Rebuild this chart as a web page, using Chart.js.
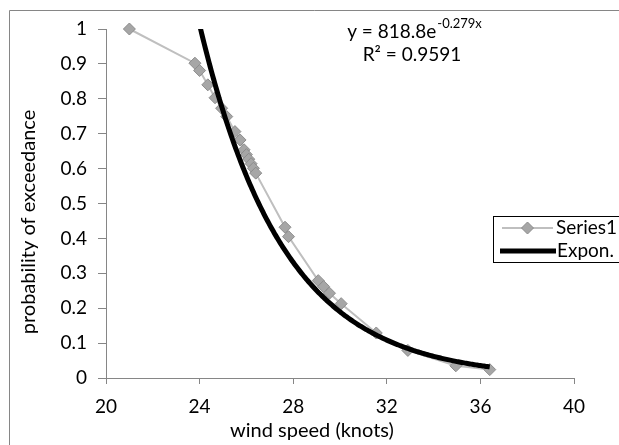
<!DOCTYPE html>
<html>
<head>
<meta charset="utf-8">
<script src="https://cdn.jsdelivr.net/npm/chart.js@4.4.0/dist/chart.umd.min.js"></script>
<style>
  body { margin: 0; background: #fff; }
  #wrap { width: 619px; height: 445px; position: relative; }
</style>
</head>
<body>
<div id="wrap"><canvas id="myChart"></canvas></div>
<script>
// wind speed (knots) vs probability of exceedance
const windSpeed = [21.0, 23.8, 24.0, 24.35, 24.66, 24.94, 25.16, 25.51, 25.73, 25.9,
                   26.0, 26.1, 26.2, 26.3, 26.4, 27.65, 27.8, 29.07, 29.3, 29.55,
                   30.05, 31.55, 32.9, 34.95, 36.4];
const exceedance = [1.0, 0.902, 0.881, 0.840, 0.803, 0.773, 0.749, 0.706, 0.682, 0.654,
                    0.640, 0.627, 0.614, 0.601, 0.587, 0.432, 0.405, 0.279, 0.262, 0.243,
                    0.213, 0.129, 0.079, 0.035, 0.024];

// exponential trendline shown on the chart: y = 818.8 e^(-0.279x)
const trendA = 818.8;
const trendB = -0.279;
const trendLabel = 'y = 818.8e';
const trendExp = '-0.279x';
const rSquared = 'R\u00b2 = 0.9591';

const xTicks = [20, 24, 28, 32, 36, 40];
const yTicks = [0, 0.1, 0.2, 0.3, 0.4, 0.5, 0.6, 0.7, 0.8, 0.9, 1];

const FONT = 'Lato';
const FS = 19;

const seriesPoints = windSpeed.map((x, i) => ({ x: x, y: exceedance[i] }));
const trendPoints = [];
const xMin = Math.min(...windSpeed), xMax = Math.max(...windSpeed);
for (let x = xMin; x <= xMax + 1e-9; x += 0.05) {
    trendPoints.push({ x: x, y: trendA * Math.exp(trendB * x) });
}
trendPoints.push({ x: xMax, y: trendA * Math.exp(trendB * xMax) });

// frame, axis titles, equation and the legend box (Excel style)
const decorations = {
    id: 'decorations',
    beforeDraw(chart) {
        const c = chart.ctx;
        c.save();
        c.strokeStyle = '#868686';
        c.lineWidth = 1;
        c.beginPath();
        c.moveTo(9.5, 460);
        c.lineTo(9.5, 10.5);
        c.lineTo(640, 10.5);
        c.stroke();
        c.restore();
    },
    afterDraw(chart) {
        const c = chart.ctx;
        c.save();
        c.fillStyle = '#000';
        c.font = '20px ' + FONT;
        c.textBaseline = 'middle';

        // axis titles
        c.textAlign = 'center';
        c.fillText('wind speed (knots)', 312, 431);
        c.save();
        c.translate(29, 222);
        c.rotate(-Math.PI / 2);
        c.fillText('probability of exceedance', 0, 0);
        c.restore();

        // trendline equation
        c.font = FS + 'px ' + FONT;
        c.textAlign = 'left';
        const w1 = c.measureText(trendLabel).width;
        c.font = '13px ' + FONT;
        const w2 = c.measureText(trendExp).width;
        let x0 = 414 - (w1 + w2) / 2;
        c.font = FS + 'px ' + FONT;
        c.fillText(trendLabel, x0, 32);
        c.font = '13px ' + FONT;
        c.fillText(trendExp, x0 + w1 + 1, 24);
        c.font = FS + 'px ' + FONT;
        c.textAlign = 'center';
        c.fillText(rSquared, 412, 55);

        // legend
        c.strokeStyle = '#000';
        c.lineWidth = 1;
        c.strokeRect(493.5, 216.5, 200, 46);
        c.strokeStyle = '#BFBFBF';
        c.lineWidth = 2;
        c.beginPath();
        c.moveTo(502, 228);
        c.lineTo(553, 228);
        c.stroke();
        c.fillStyle = '#A6A6A6';
        c.strokeStyle = '#8C8C8C';
        c.lineWidth = 1;
        c.beginPath();
        c.moveTo(527.5, 222);
        c.lineTo(533.5, 228);
        c.lineTo(527.5, 234);
        c.lineTo(521.5, 228);
        c.closePath();
        c.fill();
        c.stroke();
        c.strokeStyle = '#000';
        c.lineWidth = 5;
        c.beginPath();
        c.moveTo(500, 251);
        c.lineTo(556, 251);
        c.stroke();
        c.fillStyle = '#000';
        c.textAlign = 'left';
        c.fillText('Series1', 556, 228);
        c.fillText('Expon.', 557, 251);
        c.restore();
    }
};

const ctx = document.getElementById('myChart').getContext('2d');
const myChart = new Chart(ctx, {
    type: 'scatter',
    data: {
        datasets: [
            {
                label: 'Series1',
                data: seriesPoints,
                showLine: true,
                borderColor: '#BFBFBF',
                borderWidth: 2,
                pointStyle: 'rectRot',
                pointRadius: 6,
                pointBackgroundColor: '#A6A6A6',
                pointBorderColor: '#8C8C8C',
                pointBorderWidth: 1,
                clip: false,
                order: 2
            },
            {
                label: 'Expon.',
                data: trendPoints,
                showLine: true,
                borderColor: '#000',
                borderWidth: 5,
                pointRadius: 0,
                tension: 0,
                clip: 0,
                order: 1
            }
        ]
    },
    options: {
        responsive: true,
        maintainAspectRatio: false,
        animation: false,
        layout: { padding: { top: 29, right: 45, left: 0, bottom: 0 } },
        plugins: {
            legend: { display: false },
            tooltip: { enabled: false }
        },
        scales: {
            x: {
                type: 'linear',
                min: 20,
                max: 40,
                afterBuildTicks: (scale) => { scale.ticks = xTicks.map(v => ({ value: v })); },
                ticks: { color: '#000', font: { family: FONT, size: FS }, padding: 11, maxRotation: 0 },
                grid: { drawOnChartArea: false, drawTicks: true, tickLength: 6, color: '#868686' },
                border: { color: '#868686', width: 1 },
                afterFit: (scale) => { scale.height = 67; }
            },
            y: {
                type: 'linear',
                min: 0,
                max: 1,
                afterBuildTicks: (scale) => { scale.ticks = yTicks.map(v => ({ value: v })); },
                ticks: {
                    color: '#000', font: { family: FONT, size: FS }, padding: 11,
                    callback: (v) => String(Math.round(v * 10) / 10)
                },
                grid: { drawOnChartArea: false, drawTicks: true, tickLength: 8, color: '#868686' },
                border: { color: '#868686', width: 1 },
                afterFit: (scale) => { scale.width = 106; }
            }
        }
    },
    plugins: [decorations]
});
</script>
</body>
</html>
